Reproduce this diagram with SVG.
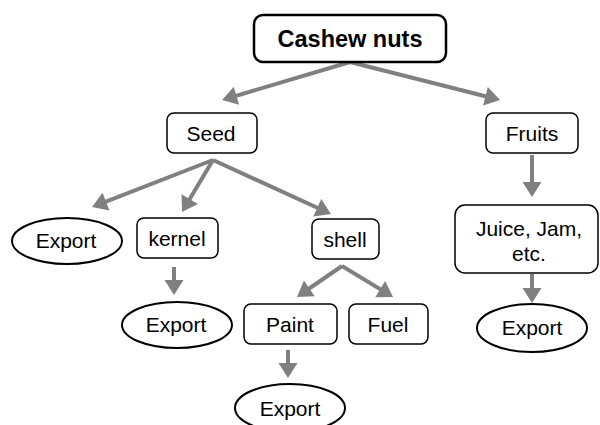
<svg xmlns="http://www.w3.org/2000/svg" width="600" height="425" viewBox="0 0 600 425">
  <style>
    .box { fill: #ffffff; stroke: #000000; stroke-width: 1.5; }
    .root { fill: #ffffff; stroke: #000000; stroke-width: 2.5; }
    .oval { fill: #ffffff; stroke: #000000; stroke-width: 2; }
    .lbl { font-family: "Liberation Sans", Arial, sans-serif; font-size: 21px; fill: #000000; text-anchor: middle; }
    .title { font-family: "Liberation Sans", Arial, sans-serif; font-size: 23.5px; font-weight: bold; fill: #000000; text-anchor: middle; }
    .edge { stroke: #808080; stroke-width: 4; fill: none; marker-end: url(#head); }
  </style>
  <defs>
    <marker id="head" markerUnits="userSpaceOnUse" markerWidth="16" markerHeight="20" refX="9" refY="10" orient="auto" overflow="visible">
      <path d="M0,0.5 L15,10 L0,19.5 z" fill="#808080"/>
    </marker>
  </defs>
  <rect width="600" height="425" fill="#ffffff"/>

  <g id="connectors">
    <line class="edge" x1="350" y1="62" x2="227.8" y2="98.3"/>
    <line class="edge" x1="350" y1="62" x2="494.2" y2="98.5"/>
    <line class="edge" x1="213" y1="160" x2="97.6" y2="204.9"/>
    <line class="edge" x1="213" y1="160" x2="185.1" y2="206.8"/>
    <line class="edge" x1="213" y1="160" x2="325.5" y2="211.5"/>
    <line class="edge" x1="532" y1="155" x2="532" y2="191"/>
    <line class="edge" x1="342" y1="266" x2="301.9" y2="293.5"/>
    <line class="edge" x1="342" y1="266" x2="387.9" y2="293.9"/>
    <line class="edge" x1="174" y1="267" x2="174" y2="289"/>
    <line class="edge" x1="532" y1="274" x2="532" y2="297"/>
    <line class="edge" x1="288" y1="350" x2="288" y2="372"/>
  </g>

  <g id="cashew">
    <rect class="root" x="254" y="15" width="192" height="47" rx="9"/>
    <text class="title" x="350" y="47">Cashew nuts</text>
  </g>
  <g id="seed">
    <rect class="box" x="167" y="113" width="90" height="40" rx="7"/>
    <text class="lbl" x="211" y="141">Seed</text>
  </g>
  <g id="fruits">
    <rect class="box" x="486" y="113" width="92" height="40" rx="7"/>
    <text class="lbl" x="532" y="141">Fruits</text>
  </g>
  <g id="export-seed">
    <ellipse class="oval" cx="67" cy="241" rx="55" ry="23"/>
    <text class="lbl" x="66" y="248">Export</text>
  </g>
  <g id="kernel">
    <rect class="box" x="137" y="218" width="81" height="40" rx="7"/>
    <text class="lbl" x="177" y="246">kernel</text>
  </g>
  <g id="shell">
    <rect class="box" x="312" y="219" width="67" height="40" rx="7"/>
    <text class="lbl" x="345" y="247">shell</text>
  </g>
  <g id="juice">
    <rect class="box" x="455" y="205" width="143" height="68" rx="10"/>
    <text class="lbl" x="529" y="236">Juice, Jam,</text>
    <text class="lbl" x="529" y="261">etc.</text>
  </g>
  <g id="export-kernel">
    <ellipse class="oval" cx="177" cy="325" rx="55" ry="23"/>
    <text class="lbl" x="176" y="332">Export</text>
  </g>
  <g id="paint">
    <rect class="box" x="244" y="304" width="93" height="40" rx="7"/>
    <text class="lbl" x="290" y="332">Paint</text>
  </g>
  <g id="fuel">
    <rect class="box" x="349" y="304" width="79" height="40" rx="7"/>
    <text class="lbl" x="388" y="332">Fuel</text>
  </g>
  <g id="export-juice">
    <ellipse class="oval" cx="532" cy="328" rx="55" ry="24"/>
    <text class="lbl" x="532" y="335">Export</text>
  </g>
  <g id="export-paint">
    <ellipse class="oval" cx="290" cy="408" rx="55" ry="24"/>
    <text class="lbl" x="290" y="416">Export</text>
  </g>
</svg>
